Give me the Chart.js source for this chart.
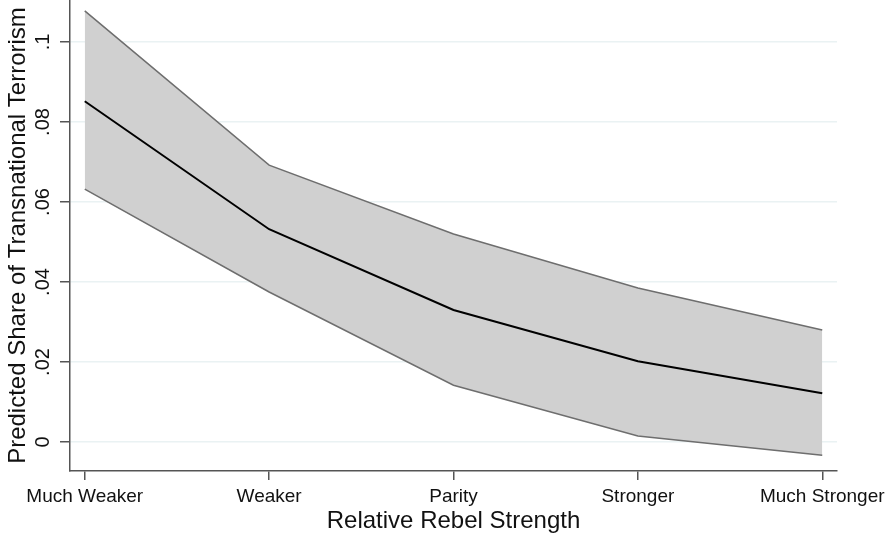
<!DOCTYPE html>
<html>
<head>
<meta charset="utf-8">
<script src="https://cdn.jsdelivr.net/npm/chart.js@4/dist/chart.umd.min.js"></script>
<style>
  html, body { margin: 0; padding: 0; background: #fff; }
  #wrap { width: 888px; height: 540px; }
</style>
</head>
<body>
<div id="wrap"><canvas id="marginsChart"></canvas></div>
<script>
var CATEGORIES = ["Much Weaker", "Weaker", "Parity", "Stronger", "Much Stronger"],
    PREDICTED = [0.0852, 0.0532, 0.0330, 0.0202, 0.0122],
    UPPER_CI = [0.1078, 0.0692, 0.0520, 0.0385, 0.0280],
    LOWER_CI = [0.0632, 0.0375, 0.0142, 0.0015, -0.0033],
    Y_TICKS = [0, 0.02, 0.04, 0.06, 0.08, 0.1];

var FONT = "Arial, 'Liberation Sans', sans-serif";

function points(values) {
    return values.map(function (v, i) { return { x: i, y: v }; });
}

// stata style: "0", ".02", ".1"
function fmtTick(v) {
    var r = Math.round(v * 100) / 100;
    if (r === 0) return "0";
    return r.toString().replace(/^0/, "");
}

var ctx = document.getElementById("marginsChart").getContext("2d");
var chart = new Chart(ctx, {
    type: 'line',
    data: {
        datasets: [
            {
                label: 'Predicted',
                data: points(PREDICTED),
                borderColor: '#000000',
                borderWidth: 2,
                pointRadius: 0,
                fill: false
            },
            {
                label: 'Upper',
                data: points(UPPER_CI),
                borderColor: '#6e6e6e',
                borderWidth: 1.5,
                backgroundColor: '#d0d0d0',
                pointRadius: 0,
                fill: '+1'
            },
            {
                label: 'Lower',
                data: points(LOWER_CI),
                borderColor: '#6e6e6e',
                borderWidth: 1.5,
                pointRadius: 0,
                fill: false
            }
        ]
    },
    options: {
        responsive: true,
        maintainAspectRatio: false,
        animation: false,
        layout: { padding: { top: 0, right: 51, left: 0, bottom: 0 } },
        plugins: {
            legend: { display: false },
            tooltip: { enabled: false },
            filler: { drawTime: 'beforeDatasetsDraw' }
        },
        scales: {
            x: {
                type: 'linear',
                min: -0.08,
                max: 4.08,
                afterFit: function (scale) {
                    scale.height = 69;
                    scale.paddingLeft = 0;
                    scale.paddingRight = 0;
                },
                border: { color: '#555555', width: 1.5 },
                grid: { drawOnChartArea: false, tickLength: 9, tickColor: '#555555', lineWidth: 1.5 },
                ticks: {
                    stepSize: 1,
                    includeBounds: false,
                    maxRotation: 0,
                    autoSkip: false,
                    padding: 5,
                    color: '#111111',
                    font: { family: FONT, size: 19 },
                    callback: function (v) { return CATEGORIES[v] !== undefined ? CATEGORIES[v] : ''; }
                },
                title: {
                    display: true,
                    text: 'Relative Rebel Strength',
                    color: '#111111',
                    font: { family: FONT, size: 24 },
                    padding: { top: 0, bottom: 4 }
                }
            },
            y: {
                min: -0.00725,
                max: 0.1105,
                afterFit: function (scale) {
                    scale.width = 70;
                    scale.paddingTop = 0;
                    scale.paddingBottom = 0;
                },
                afterBuildTicks: function (scale) {
                    scale.ticks = Y_TICKS.map(function (v) { return { value: v }; });
                },
                border: { color: '#555555', width: 1.5 },
                grid: { color: '#eaf2f3', lineWidth: 1.5, tickLength: 10, tickColor: '#555555' },
                ticks: {
                    minRotation: 90,
                    maxRotation: 90,
                    crossAlign: 'center',
                    padding: 3,
                    color: '#111111',
                    font: { family: FONT, size: 20 },
                    callback: function (v) { return fmtTick(v); }
                },
                title: {
                    display: true,
                    text: 'Predicted Share of Transnational Terrorism',
                    color: '#111111',
                    font: { family: FONT, size: 24 },
                    padding: { top: 4, bottom: 0 }
                }
            }
        }
    }
});
</script>
</body>
</html>
